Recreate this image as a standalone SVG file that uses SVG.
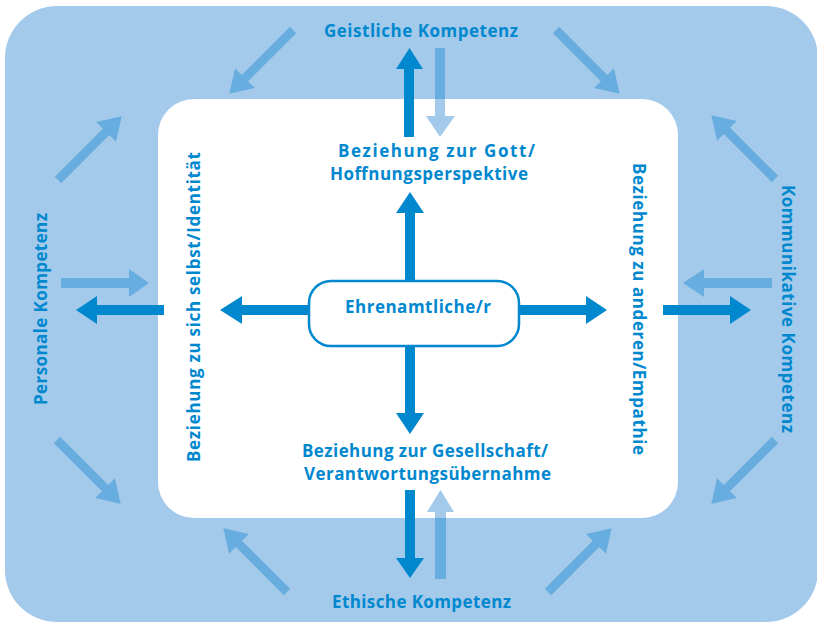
<svg xmlns="http://www.w3.org/2000/svg" width="817" height="622" viewBox="0 0 817 622">
<style>
.bg{fill:#a4caeb}
.inner{fill:#ffffff}
.mid{fill:#67ade0}
.dark{fill:#0088cf}
.light{fill:#a4caeb}
.t{font-family:"Open Sans","DejaVu Sans",sans-serif;font-weight:bold;font-size:17px;fill:#0088cf}
</style>
<defs>
<polygon id="diag" points="0,-4.5 68,-4.5 68,-14 90,0 68,14 68,4.5 0,4.5"/>
</defs>
<rect class="bg" x="5" y="6" width="813" height="616" rx="52"/>
<rect class="inner" x="158" y="99" width="520" height="419" rx="36"/>
<g id="connectors">
<use href="#diag" class="mid" transform="translate(293,30) rotate(135)"/>
<use href="#diag" class="mid" transform="translate(556,30) rotate(45)"/>
<use href="#diag" class="mid" transform="translate(775,179) rotate(-135)"/>
<use href="#diag" class="mid" transform="translate(58,180) rotate(-45)"/>
<use href="#diag" class="mid" transform="translate(57,440) rotate(45)"/>
<use href="#diag" class="mid" transform="translate(775,440) rotate(135)"/>
<use href="#diag" class="mid" transform="translate(287,592) rotate(-135)"/>
<use href="#diag" class="mid" transform="translate(548,592) rotate(-45)"/>
<polygon class="dark" points="404,137 404,69 396,69 409.5,48 423,69 414,69 414,137"/>
<polygon class="light" points="435,48 445,48 445,116 455,116 440,137 426,116 435,116"/>
<rect class="mid" x="435" y="48" width="10" height="51"/>
<polygon class="dark" points="405,490 415,490 415,558 424,558 410,578 396,558 405,558"/>
<polygon class="light" points="435,579 446,579 446,512 454,512 440.5,490 427,512 435,512"/>
<rect class="mid" x="435" y="518" width="11" height="61"/>
<polygon class="mid" points="61,278 129,278 129,269 149,283 129,297 129,288 61,288"/>
<polygon class="dark" points="164,305 97,305 97,296 76,310 97,324 97,315 164,315"/>
<polygon class="mid" points="772,278 704,278 704,269 683,283 704,297 704,288 772,288"/>
<polygon class="dark" points="663,305 730,305 730,296 751,310 730,324 730,315 663,315"/>
<polygon class="dark" points="405,280 405,213 396,213 410,192 424,213 415,213 415,280"/>
<polygon class="dark" points="405,347 405,413 396,413 410,434 424,413 415,413 415,347"/>
<polygon class="dark" points="308,305 242,305 242,296 220,310 242,324 242,315 308,315"/>
<polygon class="dark" points="520,305 586,305 586,296 607,310 586,324 586,315 520,315"/>
</g>
<g id="center">
<rect x="309" y="281" width="210" height="65" rx="22" fill="#ffffff" stroke="#0088cf" stroke-width="2.5"/>
<text class="t" x="345" y="313" textLength="146" lengthAdjust="spacing">Ehrenamtliche/r</text>
</g>
<g id="geistlich">
<text class="t" x="324" y="37" textLength="194" lengthAdjust="spacing">Geistliche Kompetenz</text>
</g>
<g id="gott">
<text class="t" x="338" y="157" textLength="197" lengthAdjust="spacing">Beziehung zur Gott/</text>
<text class="t" x="330" y="180" textLength="198" lengthAdjust="spacing">Hoffnungsperspektive</text>
</g>
<g id="gesellschaft">
<text class="t" x="302" y="457" textLength="246" lengthAdjust="spacing">Beziehung zur Gesellschaft/</text>
<text class="t" x="304" y="480" textLength="247" lengthAdjust="spacing">Verantwortungsübernahme</text>
</g>
<g id="ethisch">
<text class="t" x="332" y="608" textLength="179" lengthAdjust="spacing">Ethische Kompetenz</text>
</g>
<g id="selbst">
<text class="t" transform="translate(200,462) rotate(-90)" x="0" y="0" textLength="310" lengthAdjust="spacing">Beziehung zu sich selbst/Identität</text>
</g>
<g id="anderen">
<text class="t" transform="translate(633,163) rotate(90)" x="0" y="0" textLength="292" lengthAdjust="spacing">Beziehung zu anderen/Empathie</text>
</g>
<g id="personal">
<text class="t" transform="translate(47,405) rotate(-90)" x="0" y="0" textLength="192" lengthAdjust="spacing">Personale Kompetenz</text>
</g>
<g id="kommunikativ">
<text class="t" transform="translate(782,185) rotate(90)" x="0" y="0" textLength="248" lengthAdjust="spacing">Kommunikative Kompetenz</text>
</g>
</svg>
